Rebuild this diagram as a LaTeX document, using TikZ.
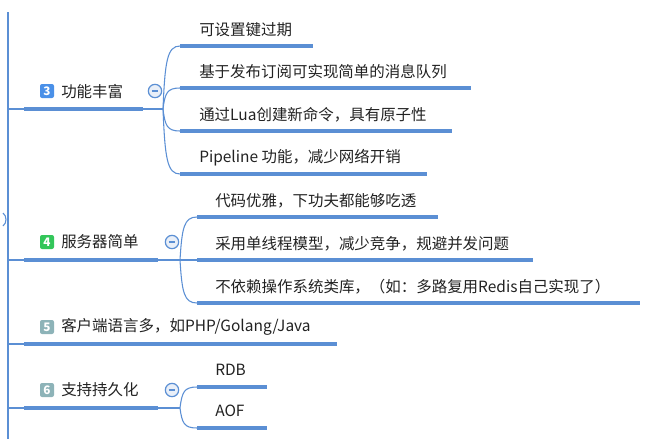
\documentclass[tikz,border=0pt]{standalone}
\usepackage{fontspec}
\newfontfamily\cjk{Noto Sans CJK SC}
\usepackage{tikz}
\usetikzlibrary{calc,positioning}
\usepackage{xcolor}
\definecolor{linecol}{HTML}{5B8FD4}
\definecolor{txtcol}{HTML}{222222}
\definecolor{foldfill}{HTML}{E9EFF8}
\definecolor{bluebdg}{HTML}{4A90E8}
\definecolor{greenbdg}{HTML}{33C65A}
\definecolor{graybdg}{HTML}{8DB3B8}

\begin{document}
\begin{tikzpicture}[x=0.75pt,y=-0.75pt,
  line/.style={draw=linecol, line width=0.8pt},
  uline/.style={draw=linecol, line width=2.4pt},
  txt/.style={anchor=west, inner sep=0pt, text=txtcol, font=\cjk\fontsize{11.6}{13}\selectfont},
  badge/.style={rectangle, rounded corners=1.5pt, fill=#1, text=white, minimum size=10.5pt, inner sep=0pt, font=\cjk\bfseries\fontsize{8.8}{8.8}\selectfont},
  fold/.style={circle, draw=linecol, fill=foldfill, minimum size=10pt, inner sep=0pt, line width=0.9pt}
]
\useasboundingbox (0,0) rectangle (656,439);
% Spine on the left
\coordinate (top) at (8,12);
\coordinate (bot) at (8,439);
\draw[line] (top) -- (bot);
\draw[line] (3,213) .. controls (7,216) and (7,223) .. (3,226);

% Topic 3
\coordinate (s3) at (8,109);
\coordinate (u3a) at (24,109);
\coordinate (u3b) at (143,109);
\coordinate (j3) at (163,109);
\draw[line] (s3) -- (u3a);
\draw[uline] (u3a) -- (u3b);
\draw[line] (u3b) -- (j3);
\node[badge=bluebdg] (b3) at (47,91) {3};
\node[txt] (t3) at (61,92) {功能丰富};
\node[fold] (f3) at (155,91) {};
\draw[linecol, line width=0.9pt] ([xshift=-2.3pt]f3.center) -- ([xshift=2.3pt]f3.center);
\foreach \y/\xe/\lbl [count=\i] in {46/313/可设置键过期,
    88/471/基于发布订阅可实现简单的消息队列,
    131/452/通过Lua创建新命令，具有原子性,
    174/427/Pipeline 功能，减少网络开销} {
  \coordinate (c3\i a) at (180,\y);
  \coordinate (c3\i b) at (\xe,\y);
  \draw[uline] (c3\i a) -- (c3\i b);
  \node[txt] (c3\i) at (199,\y-16) {\lbl};
  \draw[line] (j3) .. controls (165,{109+(\y-109)*0.75}) and (167,\y) .. (c3\i a);
}

% Topic 4
\coordinate (s4) at (8,260);
\coordinate (u4a) at (24,260);
\coordinate (u4b) at (158,260);
\coordinate (j4) at (180,260);
\draw[line] (s4) -- (u4a);
\draw[uline] (u4a) -- (u4b);
\draw[line] (u4b) -- (j4);
\node[badge=greenbdg] (b4) at (47,242) {4};
\node[txt] (t4) at (61,242) {服务器简单};
\node[fold] (f4) at (172,242) {};
\draw[linecol, line width=0.9pt] ([xshift=-2.3pt]f4.center) -- ([xshift=2.3pt]f4.center);
\foreach \y/\xe/\lbl [count=\i] in {217/438/代码优雅，下功夫都能够吃透,
    260/533/采用单线程模型，减少竞争，规避并发问题,
    303/640/不依赖操作系统类库，（如：多路复用Redis自己实现了）} {
  \coordinate (c4\i a) at (197,\y);
  \coordinate (c4\i b) at (\xe,\y);
  \draw[uline] (c4\i a) -- (c4\i b);
  \node[txt] (c4\i) at (215,\y-16) {\lbl};
  \draw[line] (j4) .. controls (182,{260+(\y-260)*0.75}) and (184,\y) .. (c4\i a);
}

% Topic 5
\coordinate (s5) at (8,344);
\coordinate (u5a) at (24,344);
\coordinate (u5b) at (337,344);
\draw[line] (s5) -- (u5a);
\draw[uline] (u5a) -- (u5b);
\node[badge=graybdg] (b5) at (47,327) {5};
\node[txt] (t5) at (61,327) {客户端语言多，如PHP/Golang/Java};

% Topic 6
\coordinate (s6) at (8,408);
\coordinate (u6a) at (24,408);
\coordinate (u6b) at (158,408);
\coordinate (j6) at (180,408);
\draw[line] (s6) -- (u6a);
\draw[uline] (u6a) -- (u6b);
\draw[line] (u6b) -- (j6);
\node[badge=graybdg] (b6) at (47,390) {6};
\node[txt] (t6) at (61,390) {支持持久化};
\node[fold] (f6) at (172,390) {};
\draw[linecol, line width=0.9pt] ([xshift=-2.3pt]f6.center) -- ([xshift=2.3pt]f6.center);
\foreach \y/\lbl [count=\i] in {387/RDB, 428/AOF} {
  \coordinate (c6\i a) at (197,\y);
  \coordinate (c6\i b) at (267,\y);
  \draw[uline] (c6\i a) -- (c6\i b);
  \node[txt] (c6\i) at (215,\y-17) {\lbl};
  \draw[line] (j6) .. controls (182,{408+(\y-408)*0.75}) and (184,\y) .. (c6\i a);
}
\end{tikzpicture}
\end{document}
